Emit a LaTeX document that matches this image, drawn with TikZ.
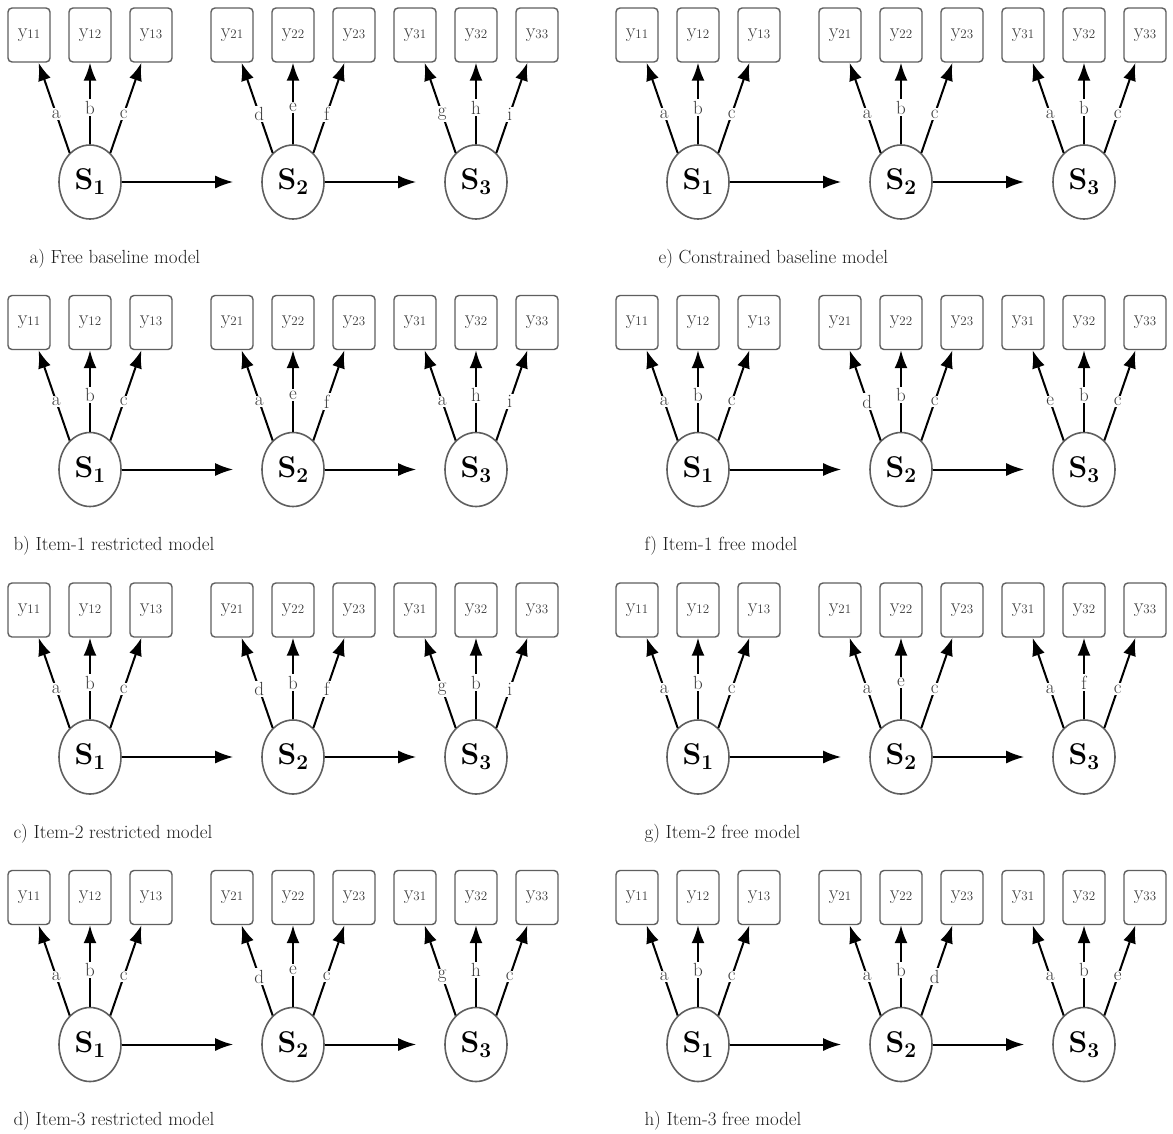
\documentclass[tikz,border=0pt]{standalone}
\usepackage{fontspec}
\usetikzlibrary{arrows.meta,shapes.geometric}
\definecolor{framegray}{RGB}{95,95,95}
\definecolor{labgray}{RGB}{60,60,60}
\definecolor{capgray}{RGB}{30,30,30}
\tikzset{
  obsbox/.style    = {draw=framegray, line width=1.4pt, rounded corners=4pt,
                      minimum width=42pt, minimum height=54pt, inner sep=0pt,
                      text=labgray, font=\fontsize{20}{20}\selectfont},
  latent/.style    = {ellipse, draw=framegray, line width=1.6pt,
                      minimum width=62pt, minimum height=74pt, inner sep=0pt,
                      font=\fontsize{30}{30}\selectfont\bfseries},
  loadarrow/.style = {draw=black, line width=2pt, -{Latex[length=18pt,width=13pt]}},
  transarrow/.style= {loadarrow, shorten >=28pt},
  loadlab/.style   = {fill=white, inner sep=1.5pt, text=labgray,
                      font=\fontsize{19}{19}\selectfont},
  panelcap/.style  = {anchor=base west, text=capgray, font=\fontsize{19}{22}\selectfont},
}
% one panel: name, x shift, y shift, caption x, caption, loading labels per state
\newcommand{\ssmpanel}[6]{%
  \begin{scope}[shift={(#2,#3)}]
    \foreach \la/\lb/\lc [count=\k] in {#6} {
      \pgfmathsetmacro{\sx}{{90,293,476}[\k-1]}
      \node[latent] (#1s\k) at (\sx,182) {S\raisebox{-5pt}{\fontsize{21}{21}\selectfont\k}};
      \node[obsbox] (#1y\k1) at (\sx-61,35) {y\raisebox{-1pt}{\fontsize{13}{13}\selectfont\k1}};
      \node[obsbox] (#1y\k2) at (\sx,35)    {y\raisebox{-1pt}{\fontsize{13}{13}\selectfont\k2}};
      \node[obsbox] (#1y\k3) at (\sx+61,35) {y\raisebox{-1pt}{\fontsize{13}{13}\selectfont\k3}};
      \draw[loadarrow] (#1s\k.125) -- node[loadlab, pos=0.43] {\la} (#1y\k1);
      \draw[loadarrow] (#1s\k.north) -- node[loadlab, pos=0.45] {\lb} (#1y\k2);
      \draw[loadarrow] (#1s\k.55) -- node[loadlab, pos=0.43] {\lc} (#1y\k3);
    }
    \draw[transarrow] (#1s1) -- (#1s2);
    \draw[transarrow] (#1s2) -- (#1s3);
    \node[panelcap] (#1cap) at (#4,263) {#5};
  \end{scope}
}

\begin{document}
\begin{tikzpicture}[x=1pt, y=-1pt]
  \fill[white] (0,0) rectangle (1173,1133);
  \useasboundingbox (0,0) rectangle (1173,1133);

  % left column
  \ssmpanel{a}{0}{0}{26}{a) Free baseline model}{a/b/c, d/e/f, g/h/i}
  \ssmpanel{b}{0}{287.5}{10}{b) Item-1 restricted model}{a/b/c, a/e/f, a/h/i}
  \ssmpanel{c}{0}{575}{10}{c) Item-2 restricted model}{a/b/c, d/b/f, g/b/i}
  \ssmpanel{d}{0}{862.5}{10}{d) Item-3 restricted model}{a/b/c, d/e/c, g/h/c}

  % right column
  \ssmpanel{e}{608}{0}{47}{e) Constrained baseline model}{a/b/c, a/b/c, a/b/c}
  \ssmpanel{f}{608}{287.5}{33}{f) Item-1 free model}{a/b/c, d/b/c, e/b/c}
  \ssmpanel{g}{608}{575}{33}{g) Item-2 free model}{a/b/c, a/e/c, a/f/c}
  \ssmpanel{h}{608}{862.5}{33}{h) Item-3 free model}{a/b/c, a/b/d, a/b/e}
\end{tikzpicture}
\end{document}
